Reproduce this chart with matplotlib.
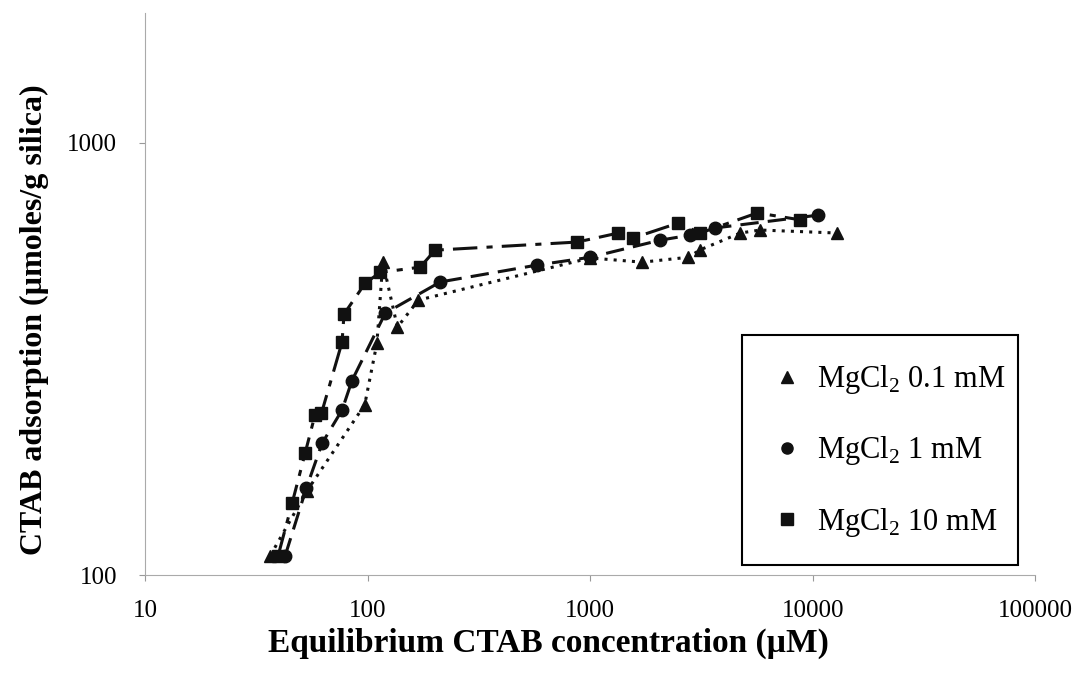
import numpy as np
import matplotlib
matplotlib.use('Agg')
import matplotlib.pyplot as plt
from matplotlib.patches import Rectangle

# CTAB adsorption isotherms at different MgCl2 concentrations
# 0.1 mM MgCl2 (triangles)
conc_01 = [36.5, 53.5, 97, 110, 117, 136, 169, 1000, 1714, 2754, 3119, 4720, 5800, 12880]
ads_01 = [111, 157, 248, 344, 530, 375, 433, 542, 530, 544, 566, 619, 629, 619]

# 1 mM MgCl2 (circles)
conc_1 = [42.6, 53, 62.4, 76.7, 85, 120, 212, 578, 1000, 2065, 2812, 3648, 10600]
ads_1 = [111, 159, 202, 241, 282, 404, 477, 522, 544, 596, 612, 636, 681]

# 10 mM MgCl2 (squares)
conc_10 = [39.6, 45.8, 52.4, 58, 62, 76.7, 78.3, 97.5, 114, 172, 201, 875, 1337, 1561, 2490, 3119, 5637, 8790]
ads_10 = [111, 147, 192, 235, 237, 346, 402, 474, 502, 516, 565, 590, 619, 603, 653, 619, 689, 664]

labels = [r'MgCl$_\mathregular{2}$ 0.1 mM', r'MgCl$_\mathregular{2}$ 1 mM', r'MgCl$_\mathregular{2}$ 10 mM']

plt.rcParams['font.family'] = ['Liberation Serif', 'DejaVu Serif']
plt.rcParams['mathtext.fontset'] = 'custom'
plt.rcParams['mathtext.rm'] = 'Liberation Serif'

fig = plt.figure(figsize=(10.91, 6.76), dpi=100)
ax = fig.add_axes([0.133, 0.149, 0.816, 0.832])

# data series with their line styles
ax.plot(conc_01, ads_01, color='#111111', marker='^', markersize=9, lw=2.2,
        linestyle=(0, (1, 2)), label=labels[0])
ax.plot(conc_1, ads_1, color='#111111', marker='o', markersize=9, lw=2.2,
        linestyle=(0, (6, 3)), label=labels[1])
ax.plot(conc_10, ads_10, color='#111111', marker='s', markersize=9, lw=2.2,
        linestyle=(0, (8, 3, 2, 3)), label=labels[2])

ax.set_xscale('log')
ax.set_yscale('log')
ax.set_xlim(10, 100000)
ax.set_ylim(100, 2000)

ax.set_xticks([10, 100, 1000, 10000, 100000])
ax.set_xticklabels(['10', '100', '1000', '10000', '100000'])
ax.set_yticks([100, 1000])
ax.set_yticklabels(['100', '1000'])
ax.minorticks_off()
ax.tick_params(axis='both', labelsize=18, length=4, color='#999999')
ax.tick_params(axis='x', pad=14)
ax.tick_params(axis='y', pad=16)

for side in ['top', 'right']:
    ax.spines[side].set_visible(False)
for side in ['left', 'bottom']:
    ax.spines[side].set_color('#aaaaaa')
    ax.spines[side].set_linewidth(0.8)
ax.spines['left'].set_linestyle((0, (3, 1)))

ax.set_xlabel('Equilibrium CTAB concentration (µM)', fontsize=24, fontweight='bold')
ax.set_ylabel('CTAB adsorption (µmoles/g silica)', fontsize=23, fontweight='bold')
ax.xaxis.set_label_coords(0.453, -0.093)
ax.yaxis.set_label_coords(-0.108, 0.454)

# legend shows markers only; box drawn separately
handles = []
for m in ['^', 'o', 's']:
    h, = ax.plot([], [], color='#111111', marker=m, markersize=8, linestyle='none')
    handles.append(h)
leg = ax.legend(handles, labels, loc='upper left', bbox_to_anchor=(0.684, 0.377),
                fontsize=22, frameon=False, labelspacing=1.25, borderpad=0,
                borderaxespad=0, handlelength=2.16, handletextpad=-0.1)
ax.add_patch(Rectangle((0.671, 0.018), 0.309, 0.409, transform=ax.transAxes,
                       fill=False, edgecolor='black', linewidth=1.5, zorder=5))

plt.savefig('out.png', dpi=100)
